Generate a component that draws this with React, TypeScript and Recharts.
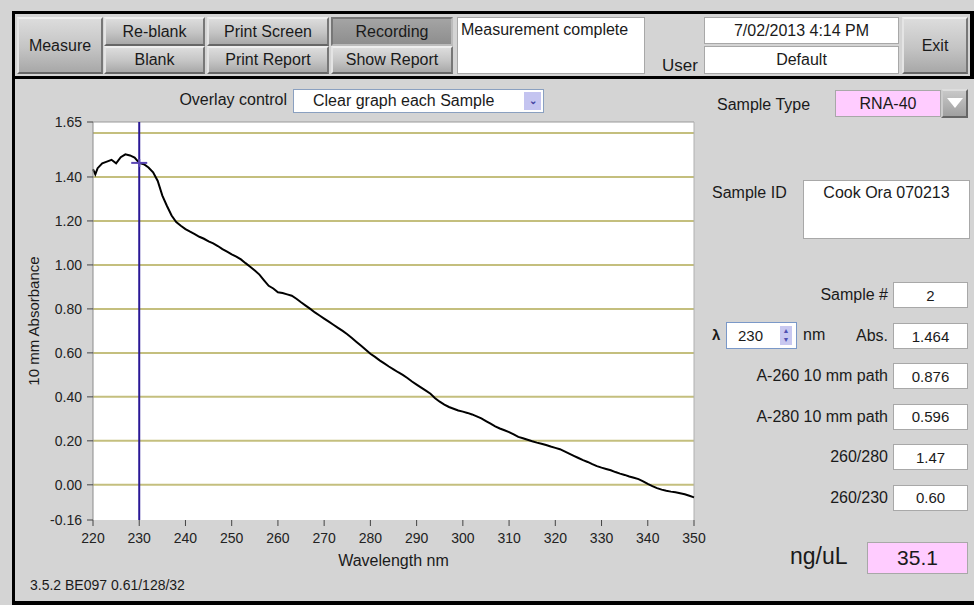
import React from "react";
import {
  LineChart,
  Line,
  XAxis,
  YAxis,
  CartesianGrid,
  ReferenceLine,
  ReferenceDot,
} from "recharts";

// spectrum readings, nm
const wavelengths = [
  220, 220.5, 221, 222, 223, 224, 225, 226, 227, 228, 229, 230, 231, 232, 233,
  234, 235, 236, 237, 238, 239, 240, 241, 242, 243, 244, 245, 246, 247, 248,
  249, 250, 251, 252, 253, 254, 255, 256, 257, 258, 259, 260, 261, 262, 263,
  264, 265, 266, 267, 268, 269, 270, 271, 272, 273, 274, 275, 276, 277, 278,
  279, 280, 281, 282, 283, 284, 285, 286, 287, 288, 289, 290, 291, 292, 293,
  294, 295, 296, 297, 298, 299, 300, 301, 302, 303, 304, 305, 306, 307, 308,
  309, 310, 311, 312, 313, 314, 315, 316, 317, 318, 319, 320, 321, 322, 323,
  324, 325, 326, 327, 328, 329, 330, 331, 332, 333, 334, 335, 336, 337, 338,
  339, 340, 341, 342, 343, 344, 345, 346, 347, 348, 349, 350,
];

// 10 mm absorbance at each wavelength
const absorbance = [
  1.435, 1.412, 1.44, 1.462, 1.47, 1.478, 1.462, 1.49, 1.503, 1.498, 1.488,
  1.464, 1.458, 1.443, 1.421, 1.382, 1.315, 1.268, 1.225, 1.195, 1.178, 1.163,
  1.151, 1.14, 1.128, 1.119, 1.107, 1.098, 1.086, 1.072, 1.06, 1.048, 1.038,
  1.025, 1.008, 0.992, 0.975, 0.956, 0.93, 0.905, 0.893, 0.876, 0.872, 0.866,
  0.86, 0.846, 0.83, 0.815, 0.8, 0.784, 0.77, 0.756, 0.742, 0.728, 0.714, 0.7,
  0.685, 0.668, 0.65, 0.632, 0.614, 0.596, 0.582, 0.566, 0.552, 0.538, 0.525,
  0.512, 0.5, 0.486, 0.47, 0.456, 0.442, 0.428, 0.414, 0.394, 0.378, 0.365,
  0.354, 0.346, 0.338, 0.333, 0.327, 0.32, 0.311, 0.302, 0.29, 0.278, 0.266,
  0.256, 0.248, 0.24, 0.229, 0.218, 0.212, 0.205, 0.198, 0.192, 0.187, 0.181,
  0.174, 0.168, 0.162, 0.152, 0.142, 0.132, 0.122, 0.112, 0.104, 0.094, 0.085,
  0.078, 0.072, 0.066, 0.058, 0.051, 0.045, 0.038, 0.032, 0.026, 0.016, 0.004,
  -0.006, -0.015, -0.022, -0.027, -0.031, -0.034, -0.038, -0.043, -0.05,
  -0.057,
];

const xTicks = [220, 230, 240, 250, 260, 270, 280, 290, 300, 310, 320, 330, 340, 350];
const yTicks = [-0.16, 0, 0.2, 0.4, 0.6, 0.8, 1.0, 1.2, 1.4, 1.6, 1.65];
const gridValues = [0, 0.2, 0.4, 0.6, 0.8, 1.0, 1.2, 1.4, 1.6];

const cursorNm = 230;
const cursorAbs = 1.464;

const readouts = [
  { label: "A-260 10 mm path", value: "0.876" },
  { label: "A-280 10 mm path", value: "0.596" },
  { label: "260/280", value: "1.47" },
  { label: "260/230", value: "0.60" },
];

const chartData = wavelengths.map((nm, i) => ({ nm, abs: absorbance[i] }));

const FONT = '"Liberation Sans", Arial, sans-serif';
const UI = 16;

const Btn: React.FC<{
  x: number;
  y: number;
  w: number;
  h: number;
  text: string;
  dark?: boolean;
}> = ({ x, y, w, h, text, dark }) => (
  <div
    style={{
      position: "absolute",
      left: x,
      top: y,
      width: w,
      height: h,
      boxSizing: "border-box",
      background: dark
        ? "linear-gradient(#a4a4a4, #8e8e8e)"
        : "linear-gradient(#dcdcdc 0%, #c4c4c4 55%, #a8a8a8 100%)",
      borderStyle: "solid",
      borderWidth: 2,
      borderColor: dark ? "#777 #bbb #bbb #777" : "#eee #777 #666 #e4e4e4",
      display: "flex",
      alignItems: "center",
      justifyContent: "center",
      fontSize: UI,
      color: "#1a1a1a",
    }}
  >
    {text}
  </div>
);

const Box: React.FC<{
  x: number;
  y: number;
  w: number;
  h: number;
  text: string;
  bg?: string;
  size?: number;
  align?: "center" | "top" | "topleft";
}> = ({ x, y, w, h, text, bg = "#fff", size = 15, align = "center" }) => (
  <div
    style={{
      position: "absolute",
      left: x,
      top: y,
      width: w,
      height: h,
      boxSizing: "border-box",
      background: bg,
      border: "1px solid #a8a8a8",
      display: "flex",
      alignItems: align === "center" ? "center" : "flex-start",
      justifyContent: align === "topleft" ? "flex-start" : "center",
      paddingTop: align === "center" ? 0 : 3,
      paddingLeft: align === "topleft" ? 3 : 0,
      fontSize: size,
      color: "#1a1a1a",
    }}
  >
    {text}
  </div>
);

const Txt: React.FC<{
  x: number;
  y: number;
  text: string;
  size?: number;
  right?: boolean;
  bold?: boolean;
}> = ({ x, y, text, size = UI, right, bold }) => (
  <div
    style={{
      position: "absolute",
      top: y - size * 0.6,
      left: right ? undefined : x,
      right: right ? 974 - x : undefined,
      fontSize: size,
      fontWeight: bold ? "bold" : "normal",
      lineHeight: `${size * 1.2}px`,
      color: "#1a1a1a",
      whiteSpace: "nowrap",
    }}
  >
    {text}
  </div>
);

const Cross = (props: { cx?: number; cy?: number }) => {
  const { cx = 0, cy = 0 } = props;
  return (
    <g stroke="#5a46b4" strokeWidth={2}>
      <line x1={cx - 8} y1={cy} x2={cx + 8} y2={cy} />
      <line x1={cx} y1={cy - 4} x2={cx} y2={cy + 4} />
    </g>
  );
};

export default function App() {
  return (
    <div
      style={{
        position: "absolute",
        left: 0,
        top: 0,
        width: 974,
        height: 605,
        background: "#d4d4d4",
        fontFamily: FONT,
        overflow: "hidden",
      }}
    >
      {/* frame */}
      <div
        style={{
          position: "absolute",
          left: 12,
          top: 11,
          width: 962,
          height: 594,
          boxSizing: "border-box",
          borderTop: "3px solid #000",
          borderLeft: "3px solid #000",
          borderBottom: "4px solid #000",
        }}
      />
      <div style={{ position: "absolute", left: 970, top: 11, width: 4, height: 68, background: "#000" }} />
      <div style={{ position: "absolute", left: 12, top: 76, width: 962, height: 3, background: "#000" }} />

      {/* toolbar */}
      <Btn x={17} y={17} w={86} h={57} text="Measure" />
      <Btn x={104} y={17} w={101} h={29} text="Re-blank" />
      <Btn x={104} y={46} w={101} h={28} text="Blank" />
      <Btn x={207} y={17} w={122} h={29} text="Print Screen" />
      <Btn x={207} y={46} w={122} h={28} text="Print Report" />
      <Btn x={331} y={17} w={122} h={29} text="Recording" dark />
      <Btn x={331} y={46} w={122} h={28} text="Show Report" />
      <Box x={457} y={17} w={188} h={57} text="Measurement complete" align="topleft" size={UI} />
      <Txt x={662} y={66} text="User" size={17} />
      <Box x={704} y={17} w={195} h={27} text="7/02/2013  4:14 PM" size={UI} />
      <Box x={704} y={46} w={195} h={28} text="Default" size={UI} />
      <Btn x={902} y={17} w={66} h={57} text="Exit" />

      {/* overlay control */}
      <Txt x={287} y={100} text="Overlay control" right />
      <div
        style={{
          position: "absolute",
          left: 293,
          top: 89,
          width: 251,
          height: 24,
          boxSizing: "border-box",
          background: "#fff",
          border: "1px solid #8aa0c0",
          fontSize: UI,
          paddingLeft: 19,
          lineHeight: "22px",
          color: "#1a1a1a",
        }}
      >
        Clear graph each Sample
        <div
          style={{
            position: "absolute",
            right: 2,
            top: 2,
            width: 17,
            height: 18,
            background: "#c4c4f0",
            color: "#4040a0",
            fontSize: 10,
            lineHeight: "18px",
            textAlign: "center",
            fontWeight: "bold",
          }}
        >
          ⌄
        </div>
      </div>

      {/* y axis title */}
      <div
        style={{
          position: "absolute",
          left: 34 - 80,
          top: 321 - 9,
          width: 160,
          height: 18,
          textAlign: "center",
          fontSize: 15,
          lineHeight: "18px",
          color: "#1a1a1a",
          transform: "rotate(-90deg)",
        }}
      >
        10 mm Absorbance
      </div>

      <div style={{ position: "absolute", left: 0, top: 0 }}>
        <LineChart
          width={974}
          height={605}
          data={chartData}
          margin={{ top: 122, right: 280, bottom: 35, left: 0 }}
        >
          <CartesianGrid
            vertical={false}
            horizontalValues={gridValues}
            stroke="#c4bf7e"
            strokeWidth={2}
            fill="#fff"
          />
          <XAxis
            dataKey="nm"
            type="number"
            domain={[220, 350]}
            ticks={xTicks}
            height={50}
            tickSize={6}
            tickMargin={7}
            axisLine={false}
            tickLine={{ stroke: "#444" }}
            tick={{ fill: "#222", fontSize: 14, fontFamily: FONT }}
            label={{
              value: "Wavelength nm",
              position: "insideBottom",
              offset: 4,
              fill: "#1a1a1a",
              fontSize: 16,
              fontFamily: FONT,
            }}
          />
          <YAxis
            type="number"
            domain={[-0.16, 1.65]}
            ticks={yTicks}
            width={93}
            tickSize={6}
            tickMargin={5}
            axisLine={{ stroke: "#8c8c8c" }}
            tickLine={{ stroke: "#444" }}
            tick={{ fill: "#222", fontSize: 14, fontFamily: FONT }}
            tickFormatter={(v: number) => (v === 1.6 ? "" : v.toFixed(2))}
            allowDataOverflow
          />
          <ReferenceLine y={1.65} stroke="#9a9a9a" strokeWidth={1} />
          <ReferenceLine x={350} stroke="#b0b0b0" strokeWidth={1} />
          <Line
            type="linear"
            dataKey="abs"
            stroke="#000"
            strokeWidth={2}
            dot={false}
            isAnimationActive={false}
          />
          <ReferenceLine x={cursorNm} stroke="#2a1896" strokeWidth={2} />
          <ReferenceDot x={cursorNm} y={cursorAbs} r={4} shape={Cross} />
        </LineChart>
      </div>

      <Txt x={30} y={585} text="3.5.2 BE097 0.61/128/32" size={14} />

      {/* sample panel */}
      <Txt x={717} y={105} text="Sample Type" />
      <Box x={835} y={90} w={106} h={27} text="RNA-40" bg="#ffccff" size={UI} />
      <div
        style={{
          position: "absolute",
          left: 941,
          top: 89,
          width: 27,
          height: 29,
          boxSizing: "border-box",
          background: "linear-gradient(#c8c8c8, #a0a0a0)",
          borderStyle: "solid",
          borderWidth: 2,
          borderColor: "#ddd #666 #666 #ccc",
        }}
      >
        <div
          style={{
            position: "absolute",
            left: 4,
            top: 7,
            width: 0,
            height: 0,
            borderLeft: "8px solid transparent",
            borderRight: "8px solid transparent",
            borderTop: "10px solid #fff",
          }}
        />
      </div>
      <Txt x={712} y={193} text="Sample ID" />
      <Box x={803} y={180} w={167} h={59} text="Cook Ora 070213" align="top" size={UI} />

      <Txt x={888} y={295} text="Sample #" right />
      <Box x={893} y={282} w={75} h={26} text="2" />

      <Txt x={712} y={335} text="λ" size={15} bold />
      <div
        style={{
          position: "absolute",
          left: 726,
          top: 322,
          width: 71,
          height: 27,
          boxSizing: "border-box",
          background: "#fff",
          border: "1px solid #7a98c8",
          fontSize: 15,
          lineHeight: "25px",
          paddingLeft: 11,
          color: "#1a1a1a",
        }}
      >
        230
        <div
          style={{
            position: "absolute",
            right: 4,
            top: 3,
            width: 12,
            height: 19,
            background: "#c8c8f0",
            color: "#5050b0",
            fontSize: 7,
            lineHeight: "9px",
            textAlign: "center",
          }}
        >
          ▲<br />▼
        </div>
      </div>
      <Txt x={803} y={335} text="nm" />
      <Txt x={888} y={336} text="Abs." right />
      <Box x={893} y={323} w={75} h={26} text="1.464" />

      {readouts.map((r, i) => (
        <React.Fragment key={r.label}>
          <Txt x={888} y={376 + i * 40.5} text={r.label} right />
          <Box x={893} y={363 + i * 40.5} w={75} h={26} text={r.value} />
        </React.Fragment>
      ))}

      <Txt x={790} y={557} text="ng/uL" size={23} />
      <Box x={867} y={542} w={101} h={32} text="35.1" bg="#ffccff" size={21} />
    </div>
  );
}
